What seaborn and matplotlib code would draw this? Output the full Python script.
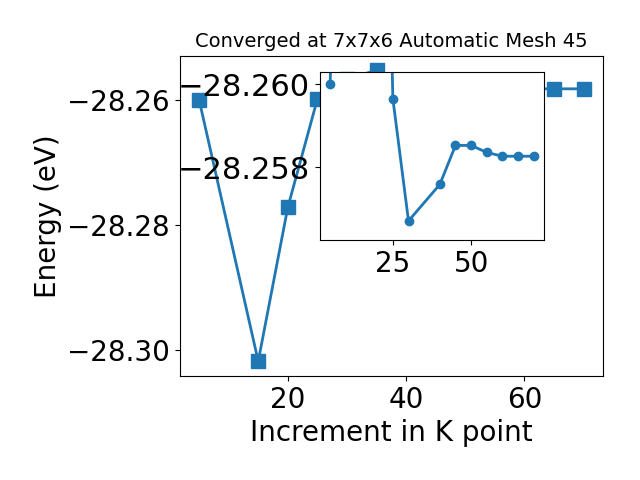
import matplotlib
matplotlib.use('Agg')
import matplotlib.pyplot as plt
import seaborn as sns

# main curve
kpoints = [5, 15, 20, 25, 30, 35, 40, 45, 50, 55, 60, 65, 70]
energy = [-28.2600, -28.3018, -28.2772, -28.2599, -28.2567, -28.2553, -28.2576,
          -28.25853, -28.25853, -28.25836, -28.25827, -28.25827, -28.25827]

# inset curve
kpoints_inset = [5, 15, 20, 25, 30, 40, 45, 50, 55, 60, 65, 70]
energy_inset = [-28.2600, -28.3018, -28.2772, -28.25966, -28.25671, -28.25759,
                -28.25853, -28.25853, -28.25836, -28.25827, -28.25827, -28.25827]

blue = '#1f77b4'

fig = plt.figure(figsize=(6.4, 4.8), dpi=100)
ax = fig.add_axes([0.281, 0.217, 0.661, 0.667])
sns.lineplot(x=kpoints, y=energy, marker='s', markersize=10, linewidth=2,
             color=blue, markeredgecolor=blue, markeredgewidth=1, ax=ax)
ax.set_title("Converged at 7x7x6 Automatic Mesh 45", fontsize=14)
ax.set_xlabel("Increment in K point", fontsize=20)
ax.set_ylabel("Energy (eV)", fontsize=20)
ax.set_yticks([-28.30, -28.28, -28.26])
ax.tick_params(labelsize=20)

# inset
ax2 = fig.add_axes([0.5, 0.5, 0.35, 0.35])
sns.lineplot(x=kpoints_inset, y=energy_inset, marker='o', markersize=6, linewidth=2,
             color=blue, markeredgecolor=blue, markeredgewidth=1, ax=ax2)
ax2.set_ylim(-28.25625, -28.2603)
ax2.set_xticks([25, 50])
ax2.set_yticks([-28.260, -28.258])
ax2.set_yticklabels(['\u221228.260', '\u221228.258'])
ax2.tick_params(axis='x', labelsize=20)
ax2.tick_params(axis='y', labelsize=22)

plt.savefig("out.png")
plt.close()
